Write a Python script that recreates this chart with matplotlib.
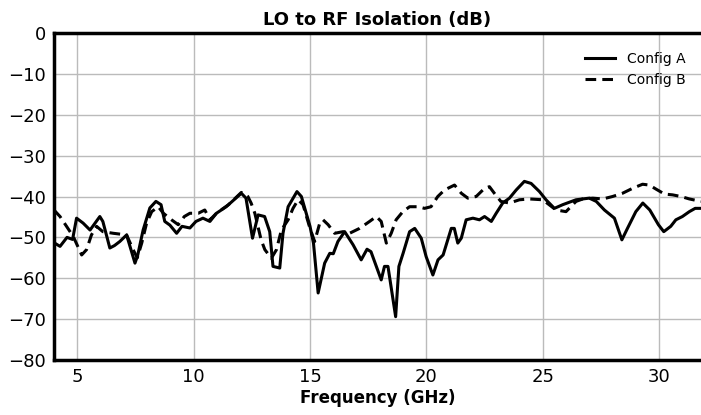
import matplotlib

matplotlib.use("Agg")

import matplotlib.pyplot as plt

# Config A (solid)
freq_a = [4.0, 4.26, 4.56, 4.8, 4.97, 5.25, 5.55, 5.97, 6.1, 6.4, 6.6, 6.83, 7.12, 7.48, 7.6,
          7.83, 8.12, 8.38, 8.6, 8.76, 8.98, 9.27, 9.5, 9.84, 10.1, 10.4, 10.7, 10.98, 11.4,
          12.05, 12.25, 12.53, 12.77, 13.05, 13.27, 13.41, 13.7, 13.84, 14.06, 14.44, 14.63,
          15.0, 15.15, 15.35, 15.63, 15.85, 16.0, 16.2, 16.49, 16.85, 17.2, 17.45, 17.62,
          17.85, 18.06, 18.2, 18.35, 18.68, 18.82, 19.0, 19.28, 19.5, 19.78, 19.99, 20.28,
          20.5, 20.72, 21.07, 21.2, 21.35, 21.5, 21.71, 22.0, 22.28, 22.5, 22.79, 23.0, 23.28,
          23.57, 23.86, 24.21, 24.5, 24.86, 25.14, 25.5, 25.86, 26.43, 27.0, 27.3, 27.65,
          28.08, 28.4, 28.64, 29.0, 29.3, 29.6, 29.97, 30.2, 30.5, 30.72, 31.0, 31.3, 31.55,
          31.8]
iso_a = [-51.3, -52.2, -50.0, -50.5, -45.3, -46.5, -48.2, -44.9, -46.1, -52.6, -52.0, -51.0,
         -49.4, -56.3, -54.3, -48.2, -42.8, -41.2, -42.0, -46.1, -47.0, -49.0, -47.3, -47.7,
         -46.1, -45.3, -46.1, -44.1, -42.5, -39.2, -40.4, -50.2, -44.5, -44.9, -48.6, -57.1,
         -57.5, -49.0, -42.5, -38.8, -40.0, -47.3, -51.4, -63.6, -56.3, -53.9, -54.0, -51.0,
         -48.6, -51.8, -55.5, -52.9, -53.5, -57.1, -60.4, -57.1, -57.1, -69.4, -57.1, -53.9,
         -48.6, -47.8, -50.2, -54.7, -59.2, -55.5, -54.3, -47.8, -47.8, -51.4, -50.2, -45.7,
         -45.3, -45.7, -44.9, -46.1, -44.1, -41.6, -40.4, -38.4, -36.3, -36.8, -38.8, -40.8,
         -42.9, -42.0, -40.8, -40.4, -41.2, -43.3, -45.3, -50.6, -47.8, -43.7, -41.6, -43.3,
         -46.9, -48.6, -47.3, -45.7, -44.9, -43.7, -42.9, -42.9]

# Config B (dashed)
freq_b = [4.0, 4.26, 4.54, 4.83, 5.19, 5.4, 5.61, 5.83, 6.1, 6.55, 7.12, 7.4, 7.58, 7.77,
          7.98, 8.2, 8.48, 8.7, 9.05, 9.34, 9.6, 9.84, 10.2, 10.48, 10.7, 10.98, 11.5, 12.05,
          12.33, 12.47, 12.63, 12.9, 13.06, 13.34, 13.56, 13.77, 14.06, 14.27, 14.49, 14.7,
          15.0, 15.2, 15.42, 15.56, 15.78, 16.06, 16.42, 16.7, 17.13, 17.56, 17.85, 18.06,
          18.28, 18.49, 18.7, 18.99, 19.28, 19.64, 19.92, 20.2, 20.49, 20.78, 21.21, 21.5,
          21.78, 22.14, 22.5, 22.71, 22.92, 23.2, 23.57, 24.0, 24.43, 25.0, 25.57, 26.0,
          26.43, 26.72, 27.15, 27.58, 28.0, 28.43, 28.86, 29.29, 29.58, 29.87, 30.23, 30.58,
          30.94, 31.3, 31.8]
iso_b = [-43.3, -44.9, -47.3, -49.8, -54.3, -53.0, -49.4, -47.3, -48.6, -49.0, -49.4, -53.0,
         -55.0, -51.4, -46.5, -43.7, -42.5, -44.1, -45.7, -46.9, -44.9, -44.1, -44.1, -43.3,
         -45.7, -44.1, -42.0, -39.0, -40.0, -41.6, -44.1, -50.6, -53.0, -55.1, -53.0, -48.2,
         -45.7, -42.9, -40.8, -42.0, -47.8, -51.0, -46.5, -45.7, -46.9, -49.0, -48.6, -49.0,
         -47.8, -46.1, -44.9, -46.1, -51.4, -49.0, -45.7, -43.7, -42.5, -42.5, -42.9, -42.5,
         -40.0, -38.4, -37.2, -39.2, -40.4, -40.0, -38.0, -37.6, -39.2, -41.2, -41.6, -40.8,
         -40.6, -40.8, -43.3, -43.7, -41.2, -40.6, -40.4, -40.6, -40.0, -39.2, -38.0, -37.0,
         -37.2, -38.2, -39.4, -39.6, -40.0, -40.6, -41.2]

fig = plt.figure(figsize=(7.01, 4.15), dpi=100)
ax = fig.add_axes([0.077, 0.1325, 0.923, 0.788])

ax.plot(freq_a, iso_a, color="black", lw=2.2, label="Config A")
ax.plot(freq_b, iso_b, color="black", lw=2.2, ls=(0, (3.5, 2)), label="Config B")

ax.set_xlim(4, 31.8)
ax.set_ylim(-80, 0)
ax.set_xticks([5, 10, 15, 20, 25, 30])
ax.set_yticks(range(-80, 1, 10))
ax.grid(True, color="#bbbbbb", lw=1)
ax.set_axisbelow(True)
ax.tick_params(length=0, labelsize=13, pad=6)

for side in ("left", "bottom", "top"):
    ax.spines[side].set_linewidth(2.5)
ax.spines["right"].set_visible(False)

ax.set_title("LO to RF Isolation (dB)", fontsize=13, fontweight="bold", pad=6)
ax.set_xlabel("Frequency (GHz)", fontsize=12, fontweight="bold", labelpad=2)
ax.legend(loc="upper right", frameon=False, fontsize=10, handlelength=2.2,
          bbox_to_anchor=(0.995, 0.98))

fig.savefig("out.png", dpi=100)
